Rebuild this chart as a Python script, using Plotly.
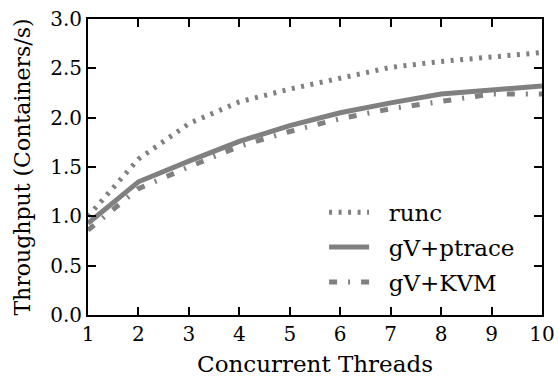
import plotly.graph_objects as go

threads = [1, 2, 3, 4, 5, 6, 7, 8, 9, 10]
runc = [1.00, 1.58, 1.94, 2.16, 2.29, 2.40, 2.51, 2.57, 2.62, 2.66]
gv_ptrace = [0.93, 1.35, 1.56, 1.76, 1.92, 2.05, 2.15, 2.24, 2.28, 2.32]
gv_kvm = [0.86, 1.28, 1.50, 1.71, 1.86, 1.99, 2.09, 2.17, 2.24, 2.24]
names = ["runc", "gV+ptrace", "gV+KVM"]

gray = "#808080"
font = "DejaVu Serif"
pad = "\u00a0\u00a0"

fig = go.Figure()
fig.add_trace(go.Scatter(x=threads, y=runc, mode="lines", name=pad + names[0], legendgroup="a",
                         line=dict(color=gray, width=5, dash="3px,6.5px")))
fig.add_trace(go.Scatter(x=threads, y=gv_ptrace, mode="lines", name=pad + names[1], legendgroup="b",
                         line=dict(color=gray, width=5)))
fig.add_trace(go.Scatter(x=threads, y=gv_kvm, mode="lines", name=pad + names[2], legendgroup="c",
                         line=dict(color=gray, width=5, dash="8px,11px,2px,11px")))

axis_common = dict(showline=True, linecolor="black", linewidth=2, mirror="ticks",
                   ticks="inside", ticklen=8, tickwidth=1.5, tickcolor="black",
                   showgrid=False, zeroline=False, automargin=False,
                   tickfont=dict(family=font, size=20, color="black"))

fig.update_layout(
    width=559, height=377,
    margin=dict(l=88, r=17, t=19, b=62),
    paper_bgcolor="white", plot_bgcolor="white",
    font=dict(family=font, color="black"),
    xaxis=dict(range=[1, 10], tickmode="array", tickvals=threads,
               title=dict(text="Concurrent Threads", font=dict(family=font, size=23), standoff=14),
               **axis_common),
    yaxis=dict(range=[0, 3.0], tickmode="array",
               tickvals=[0, 0.5, 1.0, 1.5, 2.0, 2.5, 3.0],
               ticktext=["0.0", "0.5", "1.0", "1.5", "2.0", "2.5", "3.0"],
               title=dict(text="Throughput (Containers/s)", font=dict(family=font, size=22), standoff=13),
               **axis_common),
    legend=dict(x=0.52, y=0.42, xanchor="left", yanchor="top",
                bgcolor="rgba(0,0,0,0)", font=dict(family=font, size=23),
                tracegroupgap=2, itemwidth=40),
    showlegend=True,
)

fig.write_html("out.html")
